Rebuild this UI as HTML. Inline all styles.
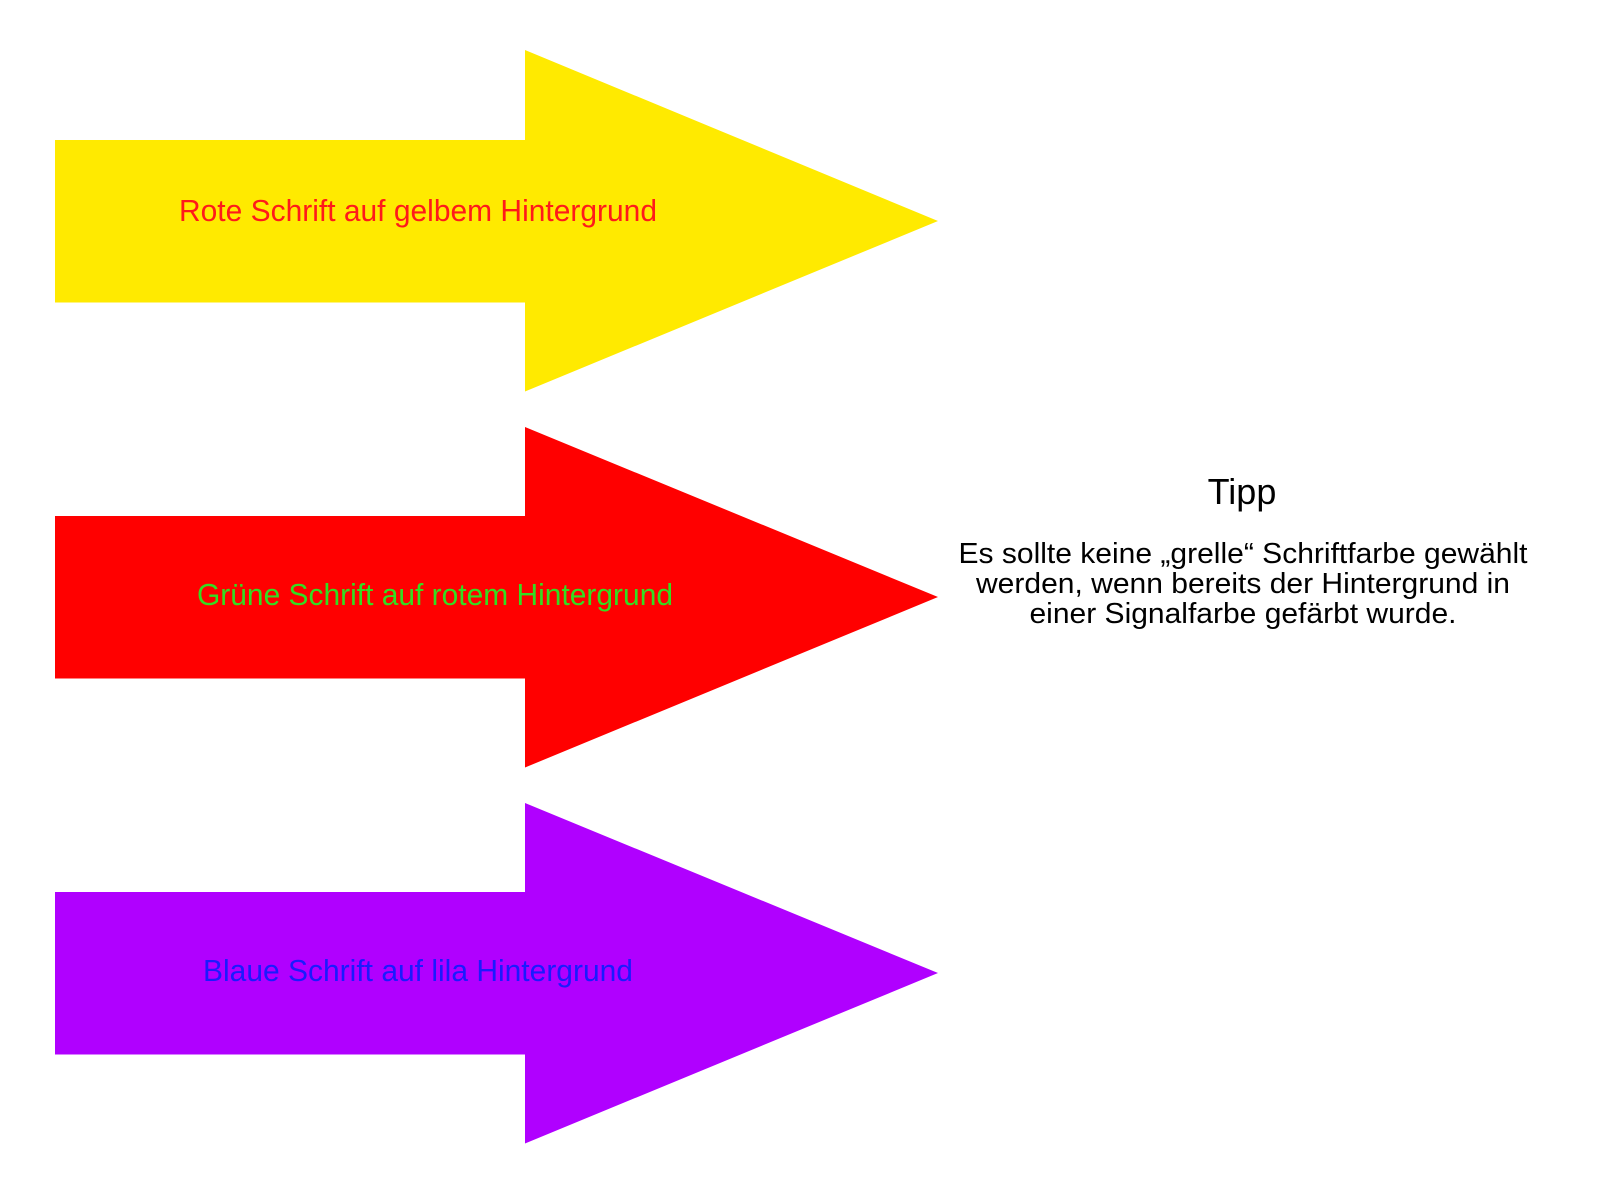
<!DOCTYPE html>
<html><head><meta charset="utf-8"><style>html,body{margin:0;padding:0;background:#fff}svg{display:block}</style></head>
<body>
<svg width="1600" height="1200" viewBox="0 0 1600 1200" xmlns="http://www.w3.org/2000/svg" font-family="Liberation Sans, Arial, sans-serif">
<polygon points="55,140 525,140 525,50 938,221 525,391.5 525,302.5 55,302.5" fill="#ffea00"/>
<polygon points="55,516 525,516 525,427 938,597 525,767.5 525,678.5 55,678.5" fill="#ff0000"/>
<polygon points="55,892 525,892 525,803 938,973 525,1143.5 525,1054.5 55,1054.5" fill="#b000ff"/>
<text x="179" y="221" font-size="31" fill="#ff1a1a" textLength="478" lengthAdjust="spacingAndGlyphs">Rote Schrift auf gelbem Hintergrund</text>
<text x="197" y="605" font-size="31" fill="#33dd22" textLength="476" lengthAdjust="spacingAndGlyphs">Grüne Schrift auf rotem Hintergrund</text>
<text x="203" y="981" font-size="31" fill="#1a1aff" textLength="430" lengthAdjust="spacingAndGlyphs">Blaue Schrift auf lila Hintergrund</text>
<text x="1242" y="504" font-size="36" fill="#000" text-anchor="middle">Tipp</text>
<text x="1243" y="563" font-size="29" fill="#000" text-anchor="middle" textLength="569" lengthAdjust="spacingAndGlyphs">Es sollte keine „grelle“ Schriftfarbe gewählt</text>
<text x="1243" y="593" font-size="29" fill="#000" text-anchor="middle" textLength="534" lengthAdjust="spacingAndGlyphs">werden, wenn bereits der Hintergrund in</text>
<text x="1243" y="623" font-size="29" fill="#000" text-anchor="middle" textLength="427" lengthAdjust="spacingAndGlyphs">einer Signalfarbe gefärbt wurde.</text>
</svg>
</body></html>
